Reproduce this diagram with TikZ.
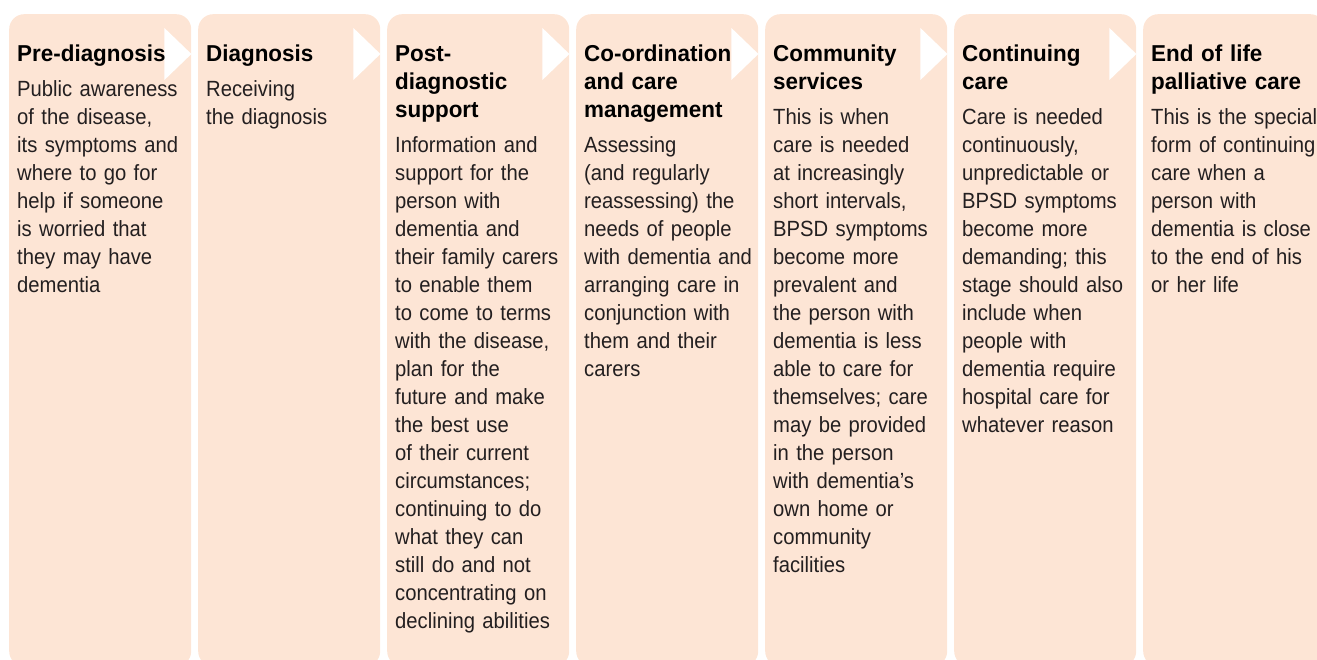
\documentclass[tikz,border=0pt]{standalone}
\usepackage{fontspec}
\setmainfont{Liberation Sans}[FakeStretch=0.92]
\newfontfamily\headfont{Liberation Sans}[FakeStretch=0.975]
\usetikzlibrary{calc}
\definecolor{panelfill}{RGB}{253,229,213}
\definecolor{bodytext}{RGB}{35,31,32}
\tikzset{panel/.style = {fill = panelfill, rounded corners = 15pt, anchor = north west,
                         inner sep = 0, minimum width = 182pt, minimum height = 652pt}}
\tikzset{head/.style = {anchor = base west, inner sep = 0, text width = 200pt, align = left,
                        font = \headfont\bfseries\fontsize{23}{28}\selectfont}}
\tikzset{body/.style = {anchor = base west, inner sep = 0, text width = 200pt, align = left,
                        text = bodytext, font = \fontsize{22}{28}\selectfont}}

\begin{document}
\begin{tikzpicture}[x = 1pt, y = -1pt]
    \useasboundingbox (0, 0) rectangle (1317, 660);
    \foreach \i in {0,...,6} {
      \node [panel] (p\i) at (9 + 189*\i, 14) {};
    }
    \foreach \i in {0,...,5} {
      \fill [white] ($(p\i.north east) + (-27, 14)$) -- ($(p\i.north east) + (0, 40)$)
        -- ($(p\i.north east) + (-27, 66)$) -- cycle;
    }
    \node [head] (h1) at (17, 62) {Pre-diagnosis};
    \node [body] (b1) at (17, 97) {Public awareness\\ of the disease,\\ its symptoms and\\
      where to go for\\ help if someone\\ is worried that\\ they may have\\ dementia};
    \node [head] (h2) at (206, 62) {Diagnosis};
    \node [body] (b2) at (206, 97) {Receiving\\ the diagnosis};
    \node [head] (h3) at (395, 62) {Post-\\ diagnostic\\ support};
    \node [body] (b3) at (395, 153) {Information and\\ support for the\\ person with\\
      dementia and\\ their family carers\\ to enable them\\ to come to terms\\
      with the disease,\\ plan for the\\ future and make\\ the best use\\ of their current\\
      circumstances;\\ continuing to do\\ what they can\\ still do and not\\
      concentrating on\\ declining abilities};
    \node [head] (h4) at (584, 62) {Co-ordination\\ and care\\ management};
    \node [body] (b4) at (584, 153) {Assessing\\ (and regularly\\ reassessing) the\\
      needs of people\\ with dementia and\\ arranging care in\\ conjunction with\\
      them and their\\ carers};
    \node [head] (h5) at (773, 62) {Community\\ services};
    \node [body] (b5) at (773, 125) {This is when\\ care is needed\\ at increasingly\\
      short intervals,\\ BPSD symptoms\\ become more\\ prevalent and\\ the person with\\
      dementia is less\\ able to care for\\ themselves; care\\ may be provided\\
      in the person\\ with dementia's\\ own home or\\ community\\ facilities};
    \node [head] (h6) at (962, 62) {Continuing\\ care};
    \node [body] (b6) at (962, 125) {Care is needed\\ continuously,\\ unpredictable or\\
      BPSD symptoms\\ become more\\ demanding; this\\ stage should also\\ include when\\
      people with\\ dementia require\\ hospital care for\\ whatever reason};
    \node [head] (h7) at (1151, 62) {End of life\\ palliative care};
    \node [body] (b7) at (1151, 125) {This is the special\\ form of continuing\\
      care when a\\ person with\\ dementia is close\\ to the end of his\\ or her life};
  \end{tikzpicture}
\end{document}
